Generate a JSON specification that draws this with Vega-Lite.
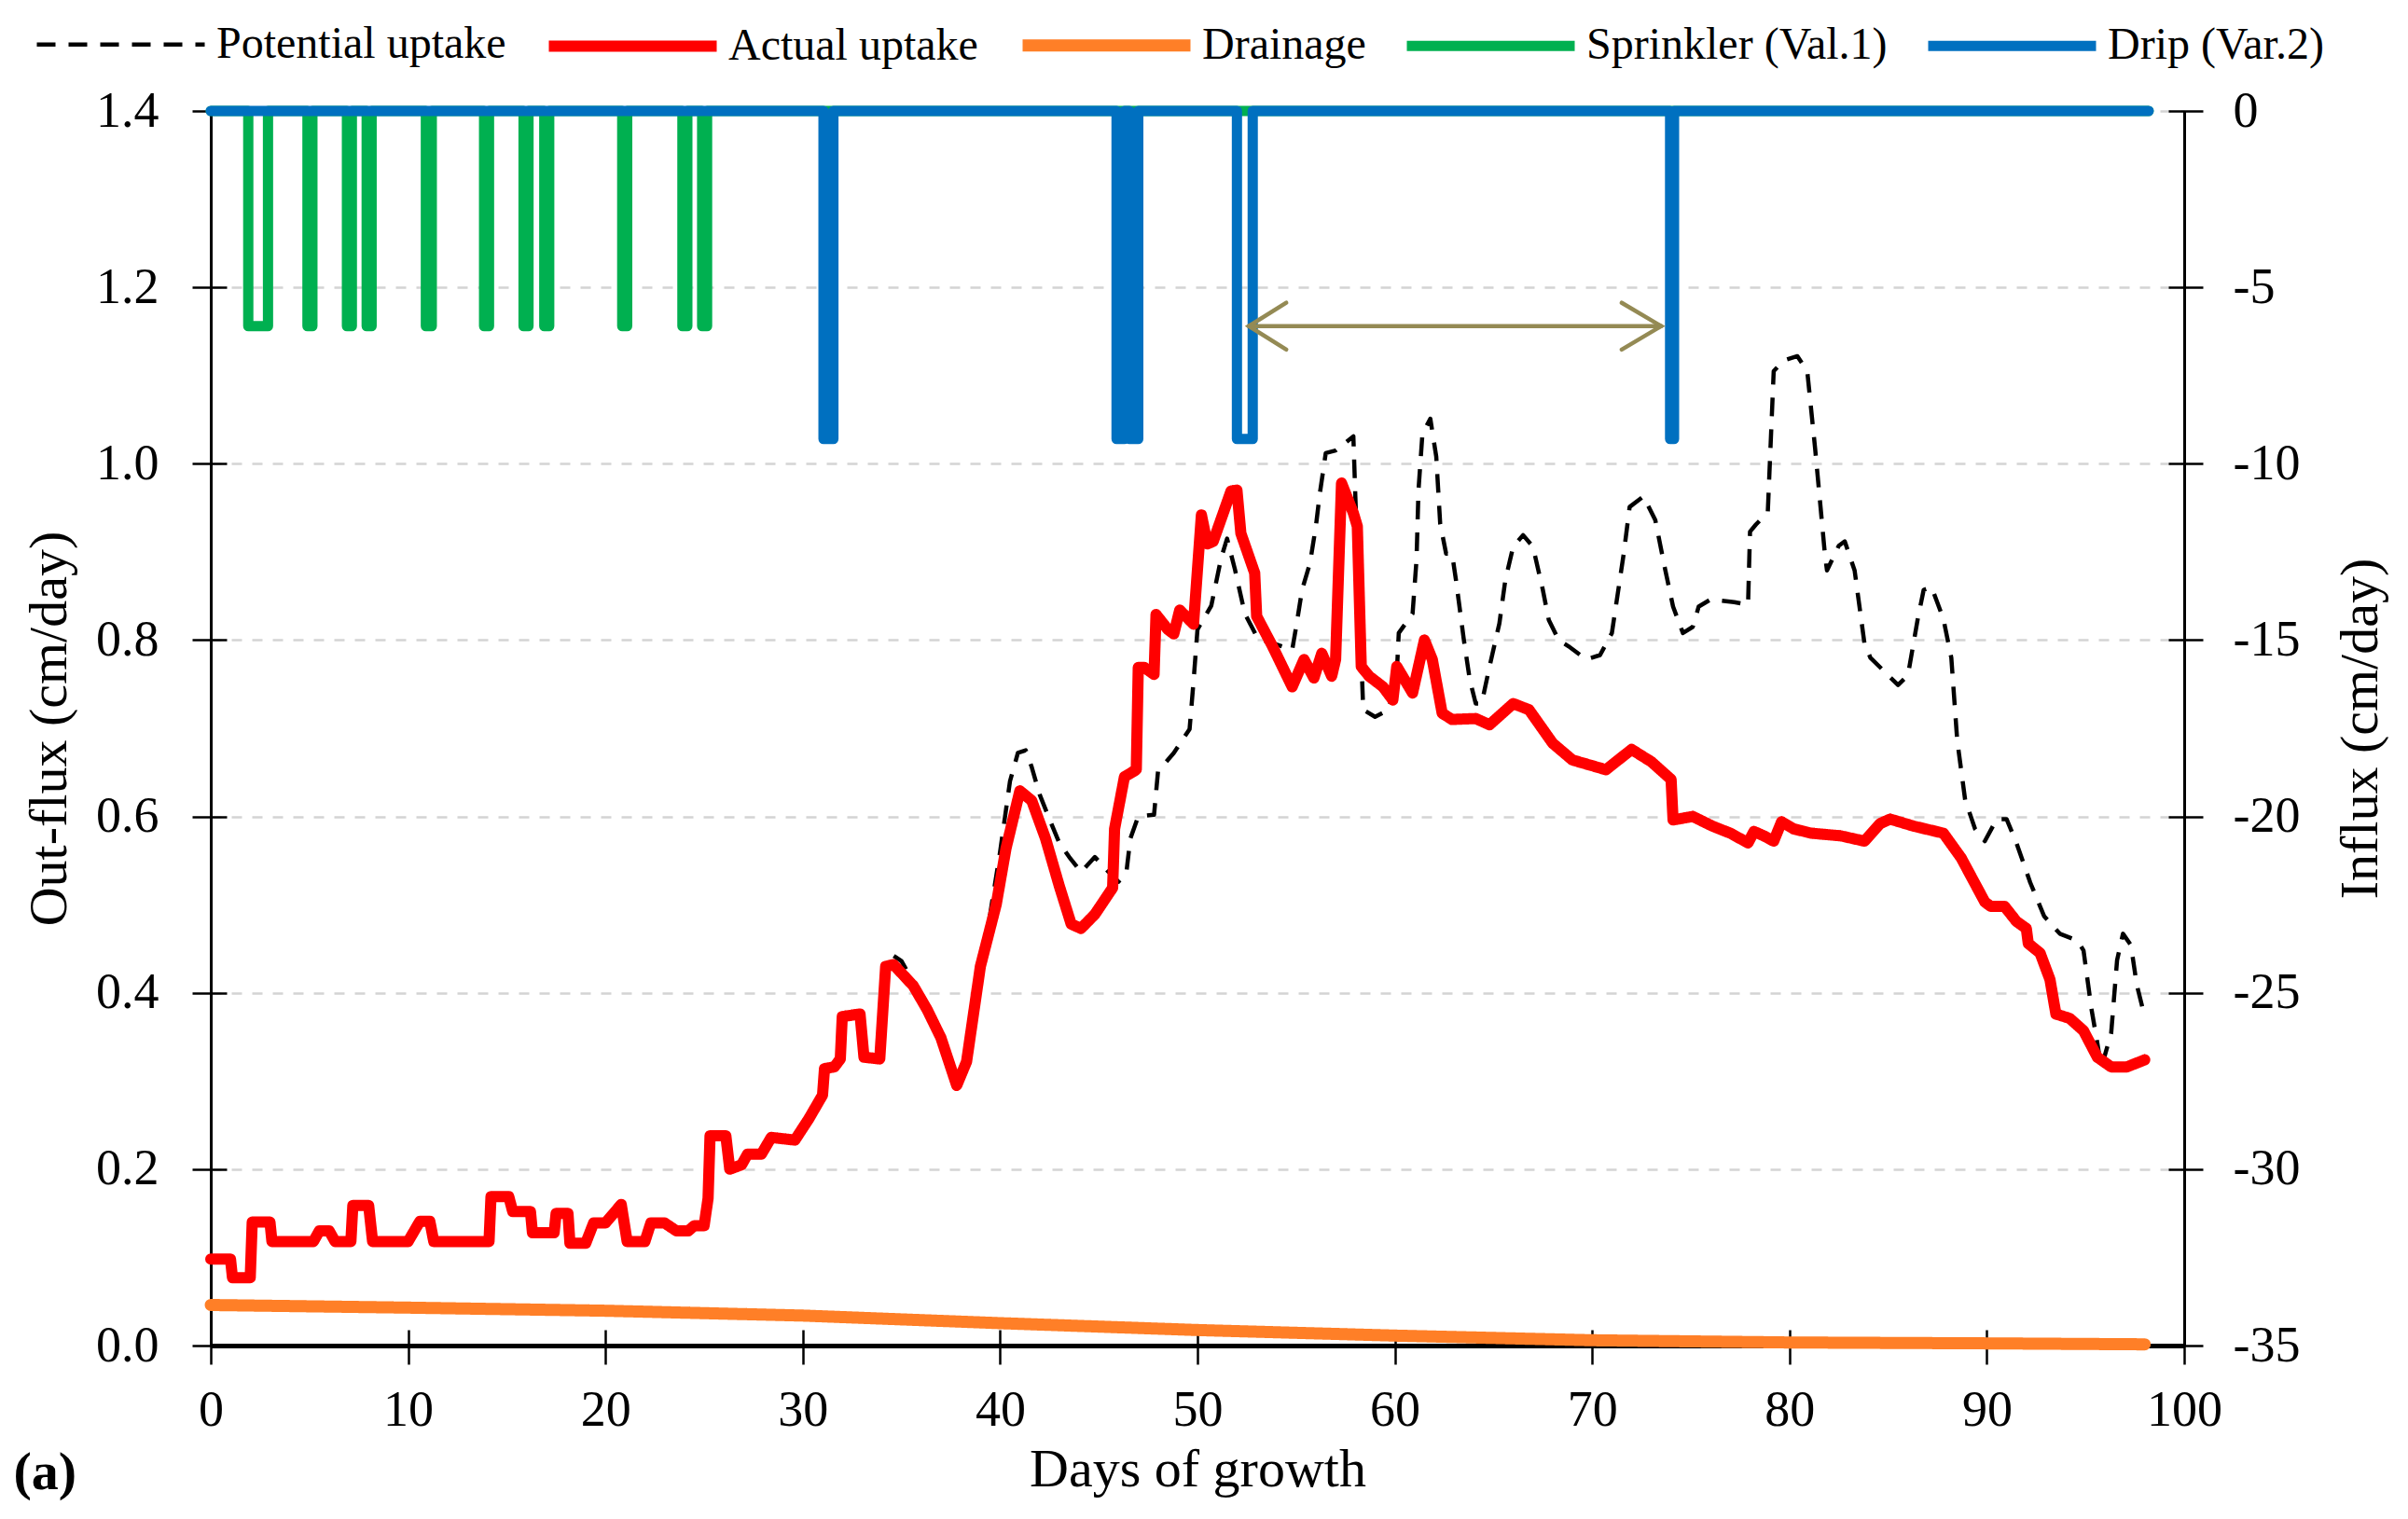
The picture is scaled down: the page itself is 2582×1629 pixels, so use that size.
{
  "$schema": "https://vega.github.io/schema/vega-lite/v6.json",
  "width": 2116,
  "height": 1324,
  "autosize": {"type": "none"},
  "padding": {"left": 226, "top": 119, "right": 240, "bottom": 186},
  "background": "white",
  "title": {"text": "(a)", "orient": "bottom", "anchor": "start", "frame": "bounds", "font": "Liberation Serif", "fontSize": 58, "fontWeight": "bold", "color": "#000", "offset": 0, "dy": -54, "dx": -10},
  "datasets": {
    "act": [
      {"d":0,"v":0.098,"s":"Actual uptake"},{"d":1.0,"v":0.098,"s":"Actual uptake"},{"d":1.1,"v":0.077,"s":"Actual uptake"},{"d":2.0,"v":0.077,"s":"Actual uptake"},
      {"d":2.1,"v":0.14,"s":"Actual uptake"},{"d":3.0,"v":0.14,"s":"Actual uptake"},{"d":3.1,"v":0.118,"s":"Actual uptake"},{"d":5.2,"v":0.118,"s":"Actual uptake"},
      {"d":5.5,"v":0.13,"s":"Actual uptake"},{"d":6.0,"v":0.13,"s":"Actual uptake"},{"d":6.3,"v":0.118,"s":"Actual uptake"},{"d":7.1,"v":0.118,"s":"Actual uptake"},
      {"d":7.2,"v":0.159,"s":"Actual uptake"},{"d":8.0,"v":0.159,"s":"Actual uptake"},{"d":8.2,"v":0.118,"s":"Actual uptake"},{"d":10.0,"v":0.118,"s":"Actual uptake"},
      {"d":10.6,"v":0.141,"s":"Actual uptake"},{"d":11.1,"v":0.141,"s":"Actual uptake"},{"d":11.3,"v":0.118,"s":"Actual uptake"},{"d":14.1,"v":0.118,"s":"Actual uptake"},
      {"d":14.2,"v":0.169,"s":"Actual uptake"},{"d":15.1,"v":0.169,"s":"Actual uptake"},{"d":15.3,"v":0.152,"s":"Actual uptake"},{"d":16.2,"v":0.152,"s":"Actual uptake"},
      {"d":16.3,"v":0.128,"s":"Actual uptake"},{"d":17.4,"v":0.128,"s":"Actual uptake"},{"d":17.5,"v":0.15,"s":"Actual uptake"},{"d":18.1,"v":0.15,"s":"Actual uptake"},
      {"d":18.2,"v":0.116,"s":"Actual uptake"},{"d":19.0,"v":0.116,"s":"Actual uptake"},{"d":19.4,"v":0.139,"s":"Actual uptake"},{"d":20.0,"v":0.139,"s":"Actual uptake"},
      {"d":20.8,"v":0.16,"s":"Actual uptake"},{"d":21.1,"v":0.118,"s":"Actual uptake"},{"d":22.0,"v":0.118,"s":"Actual uptake"},{"d":22.3,"v":0.139,"s":"Actual uptake"},
      {"d":23.0,"v":0.139,"s":"Actual uptake"},{"d":23.6,"v":0.13,"s":"Actual uptake"},{"d":24.2,"v":0.13,"s":"Actual uptake"},{"d":24.5,"v":0.136,"s":"Actual uptake"},
      {"d":25.0,"v":0.136,"s":"Actual uptake"},{"d":25.2,"v":0.167,"s":"Actual uptake"},{"d":25.3,"v":0.238,"s":"Actual uptake"},{"d":26.1,"v":0.238,"s":"Actual uptake"},
      {"d":26.3,"v":0.2,"s":"Actual uptake"},{"d":26.9,"v":0.205,"s":"Actual uptake"},{"d":27.2,"v":0.217,"s":"Actual uptake"},{"d":27.9,"v":0.217,"s":"Actual uptake"},
      {"d":28.4,"v":0.236,"s":"Actual uptake"},{"d":29.6,"v":0.233,"s":"Actual uptake"},{"d":30.3,"v":0.257,"s":"Actual uptake"},{"d":31.0,"v":0.284,"s":"Actual uptake"},
      {"d":31.1,"v":0.314,"s":"Actual uptake"},{"d":31.6,"v":0.316,"s":"Actual uptake"},{"d":31.9,"v":0.325,"s":"Actual uptake"},{"d":32.0,"v":0.373,"s":"Actual uptake"},
      {"d":32.9,"v":0.376,"s":"Actual uptake"},{"d":33.1,"v":0.327,"s":"Actual uptake"},{"d":33.9,"v":0.325,"s":"Actual uptake"},{"d":34.2,"v":0.43,"s":"Actual uptake"},
      {"d":34.6,"v":0.432,"s":"Actual uptake"},{"d":35.6,"v":0.408,"s":"Actual uptake"},{"d":36.3,"v":0.381,"s":"Actual uptake"},{"d":37.0,"v":0.349,"s":"Actual uptake"},
      {"d":37.8,"v":0.295,"s":"Actual uptake"},{"d":38.3,"v":0.322,"s":"Actual uptake"},{"d":39.0,"v":0.43,"s":"Actual uptake"},{"d":39.8,"v":0.5,"s":"Actual uptake"},
      {"d":40.3,"v":0.564,"s":"Actual uptake"},{"d":41.0,"v":0.629,"s":"Actual uptake"},{"d":41.6,"v":0.618,"s":"Actual uptake"},{"d":42.3,"v":0.575,"s":"Actual uptake"},
      {"d":43.0,"v":0.521,"s":"Actual uptake"},{"d":43.6,"v":0.478,"s":"Actual uptake"},{"d":44.1,"v":0.473,"s":"Actual uptake"},{"d":44.8,"v":0.489,"s":"Actual uptake"},
      {"d":45.7,"v":0.519,"s":"Actual uptake"},{"d":45.8,"v":0.586,"s":"Actual uptake"},{"d":46.3,"v":0.645,"s":"Actual uptake"},{"d":46.9,"v":0.653,"s":"Actual uptake"},
      {"d":47.0,"v":0.769,"s":"Actual uptake"},{"d":47.3,"v":0.769,"s":"Actual uptake"},{"d":47.8,"v":0.761,"s":"Actual uptake"},{"d":47.9,"v":0.829,"s":"Actual uptake"},
      {"d":48.5,"v":0.812,"s":"Actual uptake"},{"d":48.8,"v":0.807,"s":"Actual uptake"},{"d":49.1,"v":0.834,"s":"Actual uptake"},{"d":49.8,"v":0.818,"s":"Actual uptake"},
      {"d":50.2,"v":0.942,"s":"Actual uptake"},{"d":50.5,"v":0.909,"s":"Actual uptake"},{"d":50.8,"v":0.912,"s":"Actual uptake"},{"d":51.7,"v":0.969,"s":"Actual uptake"},
      {"d":52.0,"v":0.97,"s":"Actual uptake"},{"d":52.2,"v":0.921,"s":"Actual uptake"},{"d":52.9,"v":0.876,"s":"Actual uptake"},{"d":53.0,"v":0.827,"s":"Actual uptake"},
      {"d":53.8,"v":0.793,"s":"Actual uptake"},{"d":54.8,"v":0.747,"s":"Actual uptake"},{"d":55.4,"v":0.778,"s":"Actual uptake"},{"d":55.9,"v":0.757,"s":"Actual uptake"},
      {"d":56.3,"v":0.785,"s":"Actual uptake"},{"d":56.8,"v":0.759,"s":"Actual uptake"},{"d":57.0,"v":0.778,"s":"Actual uptake"},{"d":57.3,"v":0.978,"s":"Actual uptake"},
      {"d":57.9,"v":0.944,"s":"Actual uptake"},{"d":58.1,"v":0.929,"s":"Actual uptake"},{"d":58.3,"v":0.77,"s":"Actual uptake"},{"d":58.7,"v":0.759,"s":"Actual uptake"},
      {"d":59.4,"v":0.747,"s":"Actual uptake"},{"d":59.9,"v":0.732,"s":"Actual uptake"},{"d":60.1,"v":0.77,"s":"Actual uptake"},{"d":60.9,"v":0.74,"s":"Actual uptake"},
      {"d":61.5,"v":0.8,"s":"Actual uptake"},{"d":61.9,"v":0.778,"s":"Actual uptake"},{"d":62.4,"v":0.717,"s":"Actual uptake"},{"d":62.9,"v":0.71,"s":"Actual uptake"},
      {"d":64.1,"v":0.711,"s":"Actual uptake"},{"d":64.8,"v":0.704,"s":"Actual uptake"},{"d":66.0,"v":0.728,"s":"Actual uptake"},{"d":66.8,"v":0.721,"s":"Actual uptake"},
      {"d":68.0,"v":0.683,"s":"Actual uptake"},{"d":69.0,"v":0.664,"s":"Actual uptake"},{"d":70.7,"v":0.653,"s":"Actual uptake"},{"d":72.0,"v":0.676,"s":"Actual uptake"},
      {"d":73.0,"v":0.662,"s":"Actual uptake"},{"d":74.0,"v":0.642,"s":"Actual uptake"},{"d":74.1,"v":0.596,"s":"Actual uptake"},{"d":75.1,"v":0.6,"s":"Actual uptake"},
      {"d":76.1,"v":0.589,"s":"Actual uptake"},{"d":77.0,"v":0.581,"s":"Actual uptake"},{"d":77.9,"v":0.57,"s":"Actual uptake"},{"d":78.2,"v":0.583,"s":"Actual uptake"},
      {"d":78.7,"v":0.578,"s":"Actual uptake"},{"d":79.2,"v":0.572,"s":"Actual uptake"},{"d":79.6,"v":0.594,"s":"Actual uptake"},{"d":80.2,"v":0.586,"s":"Actual uptake"},
      {"d":81.1,"v":0.581,"s":"Actual uptake"},{"d":82.6,"v":0.578,"s":"Actual uptake"},{"d":83.8,"v":0.572,"s":"Actual uptake"},{"d":84.6,"v":0.592,"s":"Actual uptake"},
      {"d":85.1,"v":0.597,"s":"Actual uptake"},{"d":86.3,"v":0.589,"s":"Actual uptake"},{"d":87.8,"v":0.581,"s":"Actual uptake"},{"d":88.7,"v":0.553,"s":"Actual uptake"},
      {"d":89.9,"v":0.503,"s":"Actual uptake"},{"d":90.2,"v":0.498,"s":"Actual uptake"},{"d":90.9,"v":0.498,"s":"Actual uptake"},{"d":91.5,"v":0.481,"s":"Actual uptake"},
      {"d":92.0,"v":0.473,"s":"Actual uptake"},{"d":92.1,"v":0.456,"s":"Actual uptake"},{"d":92.7,"v":0.445,"s":"Actual uptake"},{"d":93.2,"v":0.415,"s":"Actual uptake"},
      {"d":93.5,"v":0.376,"s":"Actual uptake"},{"d":94.2,"v":0.371,"s":"Actual uptake"},{"d":94.9,"v":0.357,"s":"Actual uptake"},{"d":95.6,"v":0.327,"s":"Actual uptake"},
      {"d":96.3,"v":0.316,"s":"Actual uptake"},{"d":97.1,"v":0.316,"s":"Actual uptake"},{"d":98.0,"v":0.324,"s":"Actual uptake"}
    ],
    "pot": [
      {"d":0,"v":0.098,"s":"Potential uptake"},{"d":1.0,"v":0.098,"s":"Potential uptake"},{"d":1.1,"v":0.077,"s":"Potential uptake"},{"d":2.0,"v":0.077,"s":"Potential uptake"},
      {"d":2.1,"v":0.14,"s":"Potential uptake"},{"d":3.0,"v":0.14,"s":"Potential uptake"},{"d":3.1,"v":0.118,"s":"Potential uptake"},{"d":5.2,"v":0.118,"s":"Potential uptake"},
      {"d":5.5,"v":0.13,"s":"Potential uptake"},{"d":6.0,"v":0.13,"s":"Potential uptake"},{"d":6.3,"v":0.118,"s":"Potential uptake"},{"d":7.1,"v":0.118,"s":"Potential uptake"},
      {"d":7.2,"v":0.159,"s":"Potential uptake"},{"d":8.0,"v":0.159,"s":"Potential uptake"},{"d":8.2,"v":0.118,"s":"Potential uptake"},{"d":10.0,"v":0.118,"s":"Potential uptake"},
      {"d":10.6,"v":0.141,"s":"Potential uptake"},{"d":11.1,"v":0.141,"s":"Potential uptake"},{"d":11.3,"v":0.118,"s":"Potential uptake"},{"d":14.1,"v":0.118,"s":"Potential uptake"},
      {"d":14.2,"v":0.169,"s":"Potential uptake"},{"d":15.1,"v":0.169,"s":"Potential uptake"},{"d":15.3,"v":0.152,"s":"Potential uptake"},{"d":16.2,"v":0.152,"s":"Potential uptake"},
      {"d":16.3,"v":0.128,"s":"Potential uptake"},{"d":17.4,"v":0.128,"s":"Potential uptake"},{"d":17.5,"v":0.15,"s":"Potential uptake"},{"d":18.1,"v":0.15,"s":"Potential uptake"},
      {"d":18.2,"v":0.116,"s":"Potential uptake"},{"d":19.0,"v":0.116,"s":"Potential uptake"},{"d":19.4,"v":0.139,"s":"Potential uptake"},{"d":20.0,"v":0.139,"s":"Potential uptake"},
      {"d":20.8,"v":0.16,"s":"Potential uptake"},{"d":21.1,"v":0.118,"s":"Potential uptake"},{"d":22.0,"v":0.118,"s":"Potential uptake"},{"d":22.3,"v":0.139,"s":"Potential uptake"},
      {"d":23.0,"v":0.139,"s":"Potential uptake"},{"d":23.6,"v":0.13,"s":"Potential uptake"},{"d":24.2,"v":0.13,"s":"Potential uptake"},{"d":24.5,"v":0.136,"s":"Potential uptake"},
      {"d":25.0,"v":0.136,"s":"Potential uptake"},{"d":25.2,"v":0.167,"s":"Potential uptake"},{"d":25.3,"v":0.238,"s":"Potential uptake"},{"d":26.1,"v":0.238,"s":"Potential uptake"},
      {"d":26.3,"v":0.2,"s":"Potential uptake"},{"d":26.9,"v":0.205,"s":"Potential uptake"},{"d":27.2,"v":0.217,"s":"Potential uptake"},{"d":27.9,"v":0.217,"s":"Potential uptake"},
      {"d":28.4,"v":0.236,"s":"Potential uptake"},{"d":29.6,"v":0.233,"s":"Potential uptake"},{"d":30.3,"v":0.257,"s":"Potential uptake"},{"d":31.0,"v":0.284,"s":"Potential uptake"},
      {"d":31.1,"v":0.314,"s":"Potential uptake"},{"d":31.6,"v":0.316,"s":"Potential uptake"},{"d":31.9,"v":0.325,"s":"Potential uptake"},{"d":32.0,"v":0.373,"s":"Potential uptake"},
      {"d":32.9,"v":0.376,"s":"Potential uptake"},{"d":33.1,"v":0.327,"s":"Potential uptake"},{"d":33.9,"v":0.325,"s":"Potential uptake"},{"d":34.2,"v":0.43,"s":"Potential uptake"},
      {"d":34.6,"v":0.442,"s":"Potential uptake"},{"d":35.0,"v":0.436,"s":"Potential uptake"},{"d":35.5,"v":0.416,"s":"Potential uptake"},{"d":36.3,"v":0.381,"s":"Potential uptake"},
      {"d":37.0,"v":0.349,"s":"Potential uptake"},{"d":37.8,"v":0.295,"s":"Potential uptake"},{"d":38.3,"v":0.322,"s":"Potential uptake"},{"d":39.0,"v":0.43,"s":"Potential uptake"},
      {"d":39.5,"v":0.49,"s":"Potential uptake"},{"d":40.0,"v":0.56,"s":"Potential uptake"},{"d":40.5,"v":0.64,"s":"Potential uptake"},{"d":40.9,"v":0.672,"s":"Potential uptake"},
      {"d":41.3,"v":0.675,"s":"Potential uptake"},{"d":41.6,"v":0.656,"s":"Potential uptake"},{"d":42.0,"v":0.625,"s":"Potential uptake"},{"d":42.5,"v":0.597,"s":"Potential uptake"},
      {"d":43.0,"v":0.57,"s":"Potential uptake"},{"d":43.5,"v":0.554,"s":"Potential uptake"},{"d":44.1,"v":0.537,"s":"Potential uptake"},{"d":44.8,"v":0.554,"s":"Potential uptake"},
      {"d":45.5,"v":0.537,"s":"Potential uptake"},{"d":46.0,"v":0.526,"s":"Potential uptake"},{"d":46.4,"v":0.537,"s":"Potential uptake"},{"d":46.6,"v":0.575,"s":"Potential uptake"},
      {"d":47.0,"v":0.6,"s":"Potential uptake"},{"d":47.8,"v":0.602,"s":"Potential uptake"},{"d":48.0,"v":0.651,"s":"Potential uptake"},{"d":48.8,"v":0.672,"s":"Potential uptake"},
      {"d":49.6,"v":0.699,"s":"Potential uptake"},{"d":49.8,"v":0.753,"s":"Potential uptake"},{"d":50.0,"v":0.812,"s":"Potential uptake"},{"d":50.7,"v":0.839,"s":"Potential uptake"},
      {"d":51.2,"v":0.893,"s":"Potential uptake"},{"d":51.5,"v":0.915,"s":"Potential uptake"},{"d":51.9,"v":0.88,"s":"Potential uptake"},{"d":52.4,"v":0.83,"s":"Potential uptake"},
      {"d":53.1,"v":0.8,"s":"Potential uptake"},{"d":53.5,"v":0.799,"s":"Potential uptake"},{"d":54.8,"v":0.789,"s":"Potential uptake"},{"d":55.0,"v":0.815,"s":"Potential uptake"},
      {"d":55.3,"v":0.857,"s":"Potential uptake"},{"d":55.7,"v":0.887,"s":"Potential uptake"},{"d":56.0,"v":0.929,"s":"Potential uptake"},{"d":56.2,"v":0.966,"s":"Potential uptake"},
      {"d":56.5,"v":1.012,"s":"Potential uptake"},{"d":57.0,"v":1.015,"s":"Potential uptake"},{"d":57.9,"v":1.031,"s":"Potential uptake"},{"d":58.0,"v":0.963,"s":"Potential uptake"},
      {"d":58.4,"v":0.721,"s":"Potential uptake"},{"d":59.0,"v":0.713,"s":"Potential uptake"},{"d":59.7,"v":0.721,"s":"Potential uptake"},{"d":60.1,"v":0.762,"s":"Potential uptake"},
      {"d":60.2,"v":0.808,"s":"Potential uptake"},{"d":60.9,"v":0.83,"s":"Potential uptake"},{"d":61.1,"v":0.891,"s":"Potential uptake"},{"d":61.2,"v":0.97,"s":"Potential uptake"},
      {"d":61.4,"v":1.034,"s":"Potential uptake"},{"d":61.8,"v":1.051,"s":"Potential uptake"},{"d":62.1,"v":1.008,"s":"Potential uptake"},{"d":62.3,"v":0.932,"s":"Potential uptake"},
      {"d":62.6,"v":0.898,"s":"Potential uptake"},{"d":62.9,"v":0.898,"s":"Potential uptake"},{"d":63.1,"v":0.868,"s":"Potential uptake"},{"d":63.5,"v":0.8,"s":"Potential uptake"},
      {"d":63.8,"v":0.755,"s":"Potential uptake"},{"d":64.1,"v":0.728,"s":"Potential uptake"},{"d":64.4,"v":0.728,"s":"Potential uptake"},{"d":64.8,"v":0.77,"s":"Potential uptake"},
      {"d":65.3,"v":0.819,"s":"Potential uptake"},{"d":65.6,"v":0.868,"s":"Potential uptake"},{"d":66.0,"v":0.906,"s":"Potential uptake"},{"d":66.5,"v":0.919,"s":"Potential uptake"},
      {"d":67.0,"v":0.906,"s":"Potential uptake"},{"d":67.5,"v":0.857,"s":"Potential uptake"},{"d":67.8,"v":0.823,"s":"Potential uptake"},{"d":68.3,"v":0.8,"s":"Potential uptake"},
      {"d":68.8,"v":0.793,"s":"Potential uptake"},{"d":69.7,"v":0.778,"s":"Potential uptake"},{"d":70.4,"v":0.783,"s":"Potential uptake"},{"d":71.0,"v":0.808,"s":"Potential uptake"},
      {"d":71.2,"v":0.838,"s":"Potential uptake"},{"d":71.6,"v":0.898,"s":"Potential uptake"},{"d":71.9,"v":0.951,"s":"Potential uptake"},{"d":72.6,"v":0.963,"s":"Potential uptake"},
      {"d":73.2,"v":0.936,"s":"Potential uptake"},{"d":73.7,"v":0.88,"s":"Potential uptake"},{"d":74.1,"v":0.838,"s":"Potential uptake"},{"d":74.6,"v":0.808,"s":"Potential uptake"},
      {"d":75.1,"v":0.815,"s":"Potential uptake"},{"d":75.4,"v":0.838,"s":"Potential uptake"},{"d":76.0,"v":0.846,"s":"Potential uptake"},{"d":77.2,"v":0.843,"s":"Potential uptake"},
      {"d":77.9,"v":0.84,"s":"Potential uptake"},{"d":78.0,"v":0.923,"s":"Potential uptake"},{"d":78.3,"v":0.931,"s":"Potential uptake"},{"d":78.9,"v":0.945,"s":"Potential uptake"},
      {"d":79.2,"v":1.105,"s":"Potential uptake"},{"d":79.7,"v":1.117,"s":"Potential uptake"},{"d":80.4,"v":1.122,"s":"Potential uptake"},{"d":80.9,"v":1.105,"s":"Potential uptake"},
      {"d":81.3,"v":1.017,"s":"Potential uptake"},{"d":81.8,"v":0.896,"s":"Potential uptake"},{"d":81.9,"v":0.879,"s":"Potential uptake"},{"d":82.5,"v":0.907,"s":"Potential uptake"},
      {"d":82.8,"v":0.912,"s":"Potential uptake"},{"d":83.3,"v":0.879,"s":"Potential uptake"},{"d":83.8,"v":0.796,"s":"Potential uptake"},{"d":84.1,"v":0.78,"s":"Potential uptake"},
      {"d":85.5,"v":0.749,"s":"Potential uptake"},{"d":86.0,"v":0.76,"s":"Potential uptake"},{"d":86.5,"v":0.824,"s":"Potential uptake"},{"d":86.8,"v":0.857,"s":"Potential uptake"},
      {"d":87.2,"v":0.86,"s":"Potential uptake"},{"d":87.8,"v":0.824,"s":"Potential uptake"},{"d":88.2,"v":0.78,"s":"Potential uptake"},{"d":88.5,"v":0.686,"s":"Potential uptake"},
      {"d":88.9,"v":0.619,"s":"Potential uptake"},{"d":89.4,"v":0.586,"s":"Potential uptake"},{"d":89.9,"v":0.572,"s":"Potential uptake"},{"d":90.5,"v":0.597,"s":"Potential uptake"},
      {"d":91.0,"v":0.597,"s":"Potential uptake"},{"d":91.5,"v":0.57,"s":"Potential uptake"},{"d":92.2,"v":0.525,"s":"Potential uptake"},{"d":92.9,"v":0.487,"s":"Potential uptake"},
      {"d":93.7,"v":0.467,"s":"Potential uptake"},{"d":94.6,"v":0.459,"s":"Potential uptake"},{"d":94.9,"v":0.448,"s":"Potential uptake"},{"d":95.3,"v":0.382,"s":"Potential uptake"},
      {"d":95.6,"v":0.343,"s":"Potential uptake"},{"d":95.8,"v":0.315,"s":"Potential uptake"},{"d":96.3,"v":0.354,"s":"Potential uptake"},{"d":96.6,"v":0.437,"s":"Potential uptake"},
      {"d":96.9,"v":0.467,"s":"Potential uptake"},{"d":97.3,"v":0.454,"s":"Potential uptake"},{"d":97.6,"v":0.409,"s":"Potential uptake"},{"d":97.9,"v":0.382,"s":"Potential uptake"}
    ],
    "drn": [
      {"d":0,"v":0.046,"s":"Drainage"},{"d":10,"v":0.043,"s":"Drainage"},{"d":20,"v":0.0395,"s":"Drainage"},{"d":30,"v":0.034,"s":"Drainage"},
      {"d":40,"v":0.0254,"s":"Drainage"},{"d":50,"v":0.0176,"s":"Drainage"},{"d":60,"v":0.0113,"s":"Drainage"},{"d":70,"v":0.006,"s":"Drainage"},
      {"d":80,"v":0.0035,"s":"Drainage"},{"d":90,"v":0.0025,"s":"Drainage"},{"d":98,"v":0.0014,"s":"Drainage"}
    ],
    "spr": [
      {"d":0,"v":0,"s":"Sprinkler (Val.1)"},{"d":1.9,"v":0,"s":"Sprinkler (Val.1)"},{"d":1.9,"v":-6.1,"s":"Sprinkler (Val.1)"},{"d":2.9,"v":-6.1,"s":"Sprinkler (Val.1)"},{"d":2.9,"v":0,"s":"Sprinkler (Val.1)"},
      {"d":4.9,"v":0,"s":"Sprinkler (Val.1)"},{"d":4.9,"v":-6.1,"s":"Sprinkler (Val.1)"},{"d":5.15,"v":-6.1,"s":"Sprinkler (Val.1)"},{"d":5.15,"v":0,"s":"Sprinkler (Val.1)"},
      {"d":6.9,"v":0,"s":"Sprinkler (Val.1)"},{"d":6.9,"v":-6.1,"s":"Sprinkler (Val.1)"},{"d":7.15,"v":-6.1,"s":"Sprinkler (Val.1)"},{"d":7.15,"v":0,"s":"Sprinkler (Val.1)"},
      {"d":7.9,"v":0,"s":"Sprinkler (Val.1)"},{"d":7.9,"v":-6.1,"s":"Sprinkler (Val.1)"},{"d":8.15,"v":-6.1,"s":"Sprinkler (Val.1)"},{"d":8.15,"v":0,"s":"Sprinkler (Val.1)"},
      {"d":10.9,"v":0,"s":"Sprinkler (Val.1)"},{"d":10.9,"v":-6.1,"s":"Sprinkler (Val.1)"},{"d":11.2,"v":-6.1,"s":"Sprinkler (Val.1)"},{"d":11.2,"v":0,"s":"Sprinkler (Val.1)"},
      {"d":13.85,"v":0,"s":"Sprinkler (Val.1)"},{"d":13.85,"v":-6.1,"s":"Sprinkler (Val.1)"},{"d":14.1,"v":-6.1,"s":"Sprinkler (Val.1)"},{"d":14.1,"v":0,"s":"Sprinkler (Val.1)"},
      {"d":15.85,"v":0,"s":"Sprinkler (Val.1)"},{"d":15.85,"v":-6.1,"s":"Sprinkler (Val.1)"},{"d":16.1,"v":-6.1,"s":"Sprinkler (Val.1)"},{"d":16.1,"v":0,"s":"Sprinkler (Val.1)"},
      {"d":16.9,"v":0,"s":"Sprinkler (Val.1)"},{"d":16.9,"v":-6.1,"s":"Sprinkler (Val.1)"},{"d":17.15,"v":-6.1,"s":"Sprinkler (Val.1)"},{"d":17.15,"v":0,"s":"Sprinkler (Val.1)"},
      {"d":20.85,"v":0,"s":"Sprinkler (Val.1)"},{"d":20.85,"v":-6.1,"s":"Sprinkler (Val.1)"},{"d":21.1,"v":-6.1,"s":"Sprinkler (Val.1)"},{"d":21.1,"v":0,"s":"Sprinkler (Val.1)"},
      {"d":23.9,"v":0,"s":"Sprinkler (Val.1)"},{"d":23.9,"v":-6.1,"s":"Sprinkler (Val.1)"},{"d":24.15,"v":-6.1,"s":"Sprinkler (Val.1)"},{"d":24.15,"v":0,"s":"Sprinkler (Val.1)"},
      {"d":24.9,"v":0,"s":"Sprinkler (Val.1)"},{"d":24.9,"v":-6.1,"s":"Sprinkler (Val.1)"},{"d":25.15,"v":-6.1,"s":"Sprinkler (Val.1)"},{"d":25.15,"v":0,"s":"Sprinkler (Val.1)"},
      {"d":98.2,"v":0,"s":"Sprinkler (Val.1)"}
    ],
    "drp": [
      {"d":0,"v":0,"s":"Drip (Var.2)"},{"d":31.05,"v":0,"s":"Drip (Var.2)"},{"d":31.05,"v":-9.3,"s":"Drip (Var.2)"},{"d":31.55,"v":-9.3,"s":"Drip (Var.2)"},{"d":31.55,"v":0,"s":"Drip (Var.2)"},
      {"d":45.9,"v":0,"s":"Drip (Var.2)"},{"d":45.9,"v":-9.3,"s":"Drip (Var.2)"},{"d":46.3,"v":-9.3,"s":"Drip (Var.2)"},{"d":46.3,"v":0,"s":"Drip (Var.2)"},
      {"d":46.55,"v":0,"s":"Drip (Var.2)"},{"d":46.55,"v":-9.3,"s":"Drip (Var.2)"},{"d":47.0,"v":-9.3,"s":"Drip (Var.2)"},{"d":47.0,"v":0,"s":"Drip (Var.2)"},
      {"d":52.0,"v":0,"s":"Drip (Var.2)"},{"d":52.0,"v":-9.3,"s":"Drip (Var.2)"},{"d":52.8,"v":-9.3,"s":"Drip (Var.2)"},{"d":52.8,"v":0,"s":"Drip (Var.2)"},
      {"d":73.95,"v":0,"s":"Drip (Var.2)"},{"d":73.95,"v":-9.3,"s":"Drip (Var.2)"},{"d":74.15,"v":-9.3,"s":"Drip (Var.2)"},{"d":74.15,"v":0,"s":"Drip (Var.2)"},
      {"d":98.2,"v":0,"s":"Drip (Var.2)"}
    ],
    "arrow": [
      {"g":"shaft","d":52.6,"v":1.156},{"g":"shaft","d":73.5,"v":1.156},
      {"g":"left","d":54.5,"v":1.1825},{"g":"left","d":52.6,"v":1.156},{"g":"left","d":54.5,"v":1.1295},
      {"g":"right","d":71.5,"v":1.1825},{"g":"right","d":73.5,"v":1.156},{"g":"right","d":71.5,"v":1.1295}
    ]
  },
  "layer": [
    {
      "data": {"name": "drn"},
      "mark": {"type": "line", "strokeCap": "round", "strokeJoin": "round"},
      "encoding": {
        "x": {"field": "d", "type": "quantitative", "scale": {"domain": [0, 100], "nice": false, "zero": false},
              "axis": {"orient": "bottom", "values": [0,10,20,30,40,50,60,70,80,90,100], "domain": false, "offset": -17, "tickSize": 37, "labelPadding": 22, "labelFlush": false, "labelOverlap": false, "title": "Days of growth", "titlePadding": 8, "grid": false}},
        "y": {"field": "v", "type": "quantitative", "scale": {"domain": [0, 1.4], "nice": false, "zero": false},
              "axis": {"orient": "left", "values": [0,0.2,0.4,0.6,0.8,1.0,1.2,1.4], "format": ".1f", "domain": false, "offset": -17, "tickSize": 37, "labelPadding": 36, "labelFlush": false, "labelOverlap": false, "title": "Out-flux (cm/day)", "titlePadding": 20, "grid": false}},
        "order": {"value": null},
        "color": {"field": "s", "type": "nominal", "scale": {"domain": ["Potential uptake","Actual uptake","Drainage","Sprinkler (Val.1)","Drip (Var.2)"], "range": ["#000000","#FF0000","#FF7F27","#00B050","#0070C0"]},
                  "legend": {"title": null, "orient": "none", "legendX": -193, "legendY": -167, "direction": "horizontal", "columns": 5, "symbolType": "stroke", "symbolSize": 32400, "labelFontSize": 48, "labelOffset": 6, "columnPadding": 21, "labelLimit": 0}},
        "strokeDash": {"field": "s", "type": "nominal", "scale": {"domain": ["Potential uptake","Actual uptake","Drainage","Sprinkler (Val.1)","Drip (Var.2)"], "range": [[20,14],[1,0],[1,0],[1,0],[1,0]]},
                  "legend": {"title": null, "orient": "none", "legendX": -193, "legendY": -167, "direction": "horizontal", "columns": 5, "symbolType": "stroke", "symbolSize": 32400, "labelFontSize": 48, "labelOffset": 6, "columnPadding": 21, "labelLimit": 0}},
        "strokeWidth": {"field": "s", "type": "nominal", "scale": {"type": "ordinal", "domain": ["Potential uptake","Actual uptake","Drainage","Sprinkler (Val.1)","Drip (Var.2)"], "range": [4.5,12,13,11,11]},
                  "legend": {"title": null, "orient": "none", "legendX": -193, "legendY": -167, "direction": "horizontal", "columns": 5, "symbolType": "stroke", "symbolSize": 32400, "labelFontSize": 48, "labelOffset": 6, "columnPadding": 21, "labelLimit": 0}}
      }
    },
    {
      "data": {"name": "pot"},
      "mark": {"type": "line", "strokeCap": "butt", "strokeJoin": "round"},
      "encoding": {
        "x": {"field": "d", "type": "quantitative", "scale": {"domain": [0, 100], "nice": false, "zero": false},
              "axis": {"orient": "bottom", "domain": true, "domainWidth": 5, "ticks": false, "labels": false, "title": null, "grid": false}},
        "y": {"field": "v", "type": "quantitative", "scale": {"domain": [0, 1.4], "nice": false, "zero": false},
              "axis": {"orient": "left", "values": [0,0.2,0.4,0.6,0.8,1.0,1.2,1.4], "domain": true, "ticks": false, "labels": false, "title": null, "grid": true, "gridColor": "#d4d4d4", "gridDash": [11, 11], "gridWidth": 2.5}},
        "order": {"value": null},
        "color": {"field": "s", "type": "nominal", "scale": {"domain": ["Potential uptake","Actual uptake","Drainage","Sprinkler (Val.1)","Drip (Var.2)"], "range": ["#000000","#FF0000","#FF7F27","#00B050","#0070C0"]},
                  "legend": {"title": null, "orient": "none", "legendX": -193, "legendY": -167, "direction": "horizontal", "columns": 5, "symbolType": "stroke", "symbolSize": 32400, "labelFontSize": 48, "labelOffset": 6, "columnPadding": 21, "labelLimit": 0}},
        "strokeDash": {"field": "s", "type": "nominal", "scale": {"domain": ["Potential uptake","Actual uptake","Drainage","Sprinkler (Val.1)","Drip (Var.2)"], "range": [[20,14],[1,0],[1,0],[1,0],[1,0]]},
                  "legend": {"title": null, "orient": "none", "legendX": -193, "legendY": -167, "direction": "horizontal", "columns": 5, "symbolType": "stroke", "symbolSize": 32400, "labelFontSize": 48, "labelOffset": 6, "columnPadding": 21, "labelLimit": 0}},
        "strokeWidth": {"field": "s", "type": "nominal", "scale": {"type": "ordinal", "domain": ["Potential uptake","Actual uptake","Drainage","Sprinkler (Val.1)","Drip (Var.2)"], "range": [4.5,12,13,11,11]},
                  "legend": {"title": null, "orient": "none", "legendX": -193, "legendY": -167, "direction": "horizontal", "columns": 5, "symbolType": "stroke", "symbolSize": 32400, "labelFontSize": 48, "labelOffset": 6, "columnPadding": 21, "labelLimit": 0}}
      }
    },
    {
      "data": {"name": "act"},
      "mark": {"type": "line", "strokeCap": "round", "strokeJoin": "round"},
      "encoding": {
        "x": {"field": "d", "type": "quantitative", "scale": {"domain": [0, 100], "nice": false, "zero": false}, "axis": null},
        "y": {"field": "v", "type": "quantitative", "scale": {"domain": [0, 1.4], "nice": false, "zero": false}, "axis": null},
        "order": {"value": null},
        "color": {"field": "s", "type": "nominal", "scale": {"domain": ["Potential uptake","Actual uptake","Drainage","Sprinkler (Val.1)","Drip (Var.2)"], "range": ["#000000","#FF0000","#FF7F27","#00B050","#0070C0"]},
                  "legend": {"title": null, "orient": "none", "legendX": -193, "legendY": -167, "direction": "horizontal", "columns": 5, "symbolType": "stroke", "symbolSize": 32400, "labelFontSize": 48, "labelOffset": 6, "columnPadding": 21, "labelLimit": 0}},
        "strokeDash": {"field": "s", "type": "nominal", "scale": {"domain": ["Potential uptake","Actual uptake","Drainage","Sprinkler (Val.1)","Drip (Var.2)"], "range": [[20,14],[1,0],[1,0],[1,0],[1,0]]},
                  "legend": {"title": null, "orient": "none", "legendX": -193, "legendY": -167, "direction": "horizontal", "columns": 5, "symbolType": "stroke", "symbolSize": 32400, "labelFontSize": 48, "labelOffset": 6, "columnPadding": 21, "labelLimit": 0}},
        "strokeWidth": {"field": "s", "type": "nominal", "scale": {"type": "ordinal", "domain": ["Potential uptake","Actual uptake","Drainage","Sprinkler (Val.1)","Drip (Var.2)"], "range": [4.5,12,13,11,11]},
                  "legend": {"title": null, "orient": "none", "legendX": -193, "legendY": -167, "direction": "horizontal", "columns": 5, "symbolType": "stroke", "symbolSize": 32400, "labelFontSize": 48, "labelOffset": 6, "columnPadding": 21, "labelLimit": 0}}
      }
    },
    {
      "data": {"name": "spr"},
      "mark": {"type": "line", "strokeCap": "round", "strokeJoin": "round"},
      "encoding": {
        "x": {"field": "d", "type": "quantitative", "scale": {"domain": [0, 100], "nice": false, "zero": false}, "axis": null},
        "y": {"field": "v", "type": "quantitative", "scale": {"domain": [-35, 0], "nice": false, "zero": false},
              "axis": {"orient": "right", "values": [-35,-30,-25,-20,-15,-10,-5,0], "labelExpr": "'' + datum.value", "domain": false, "offset": -17, "tickSize": 37, "labelPadding": 32, "labelFlush": false, "labelOverlap": false, "title": "Influx (cm/day)", "titleAngle": 270, "titlePadding": 95, "grid": false}},
        "order": {"value": null},
        "color": {"field": "s", "type": "nominal", "scale": {"domain": ["Potential uptake","Actual uptake","Drainage","Sprinkler (Val.1)","Drip (Var.2)"], "range": ["#000000","#FF0000","#FF7F27","#00B050","#0070C0"]},
                  "legend": {"title": null, "orient": "none", "legendX": -193, "legendY": -167, "direction": "horizontal", "columns": 5, "symbolType": "stroke", "symbolSize": 32400, "labelFontSize": 48, "labelOffset": 6, "columnPadding": 21, "labelLimit": 0}},
        "strokeDash": {"field": "s", "type": "nominal", "scale": {"domain": ["Potential uptake","Actual uptake","Drainage","Sprinkler (Val.1)","Drip (Var.2)"], "range": [[20,14],[1,0],[1,0],[1,0],[1,0]]},
                  "legend": {"title": null, "orient": "none", "legendX": -193, "legendY": -167, "direction": "horizontal", "columns": 5, "symbolType": "stroke", "symbolSize": 32400, "labelFontSize": 48, "labelOffset": 6, "columnPadding": 21, "labelLimit": 0}},
        "strokeWidth": {"field": "s", "type": "nominal", "scale": {"type": "ordinal", "domain": ["Potential uptake","Actual uptake","Drainage","Sprinkler (Val.1)","Drip (Var.2)"], "range": [4.5,12,13,11,11]},
                  "legend": {"title": null, "orient": "none", "legendX": -193, "legendY": -167, "direction": "horizontal", "columns": 5, "symbolType": "stroke", "symbolSize": 32400, "labelFontSize": 48, "labelOffset": 6, "columnPadding": 21, "labelLimit": 0}}
      }
    },
    {
      "data": {"name": "drp"},
      "mark": {"type": "line", "strokeCap": "round", "strokeJoin": "round"},
      "encoding": {
        "x": {"field": "d", "type": "quantitative", "scale": {"domain": [0, 100], "nice": false, "zero": false}, "axis": null},
        "y": {"field": "v", "type": "quantitative", "scale": {"domain": [-35, 0], "nice": false, "zero": false},
              "axis": {"orient": "right", "domain": true, "ticks": false, "labels": false, "title": null, "grid": false}},
        "order": {"value": null},
        "color": {"field": "s", "type": "nominal", "scale": {"domain": ["Potential uptake","Actual uptake","Drainage","Sprinkler (Val.1)","Drip (Var.2)"], "range": ["#000000","#FF0000","#FF7F27","#00B050","#0070C0"]},
                  "legend": {"title": null, "orient": "none", "legendX": -193, "legendY": -167, "direction": "horizontal", "columns": 5, "symbolType": "stroke", "symbolSize": 32400, "labelFontSize": 48, "labelOffset": 6, "columnPadding": 21, "labelLimit": 0}},
        "strokeDash": {"field": "s", "type": "nominal", "scale": {"domain": ["Potential uptake","Actual uptake","Drainage","Sprinkler (Val.1)","Drip (Var.2)"], "range": [[20,14],[1,0],[1,0],[1,0],[1,0]]},
                  "legend": {"title": null, "orient": "none", "legendX": -193, "legendY": -167, "direction": "horizontal", "columns": 5, "symbolType": "stroke", "symbolSize": 32400, "labelFontSize": 48, "labelOffset": 6, "columnPadding": 21, "labelLimit": 0}},
        "strokeWidth": {"field": "s", "type": "nominal", "scale": {"type": "ordinal", "domain": ["Potential uptake","Actual uptake","Drainage","Sprinkler (Val.1)","Drip (Var.2)"], "range": [4.5,12,13,11,11]},
                  "legend": {"title": null, "orient": "none", "legendX": -193, "legendY": -167, "direction": "horizontal", "columns": 5, "symbolType": "stroke", "symbolSize": 32400, "labelFontSize": 48, "labelOffset": 6, "columnPadding": 21, "labelLimit": 0}}
      }
    },
    {
      "data": {"name": "arrow"},
      "mark": {"type": "line", "color": "#948A54", "strokeWidth": 4.5, "strokeCap": "round", "strokeJoin": "miter"},
      "encoding": {
        "x": {"field": "d", "type": "quantitative", "scale": {"domain": [0, 100], "nice": false, "zero": false}, "axis": null},
        "y": {"field": "v", "type": "quantitative", "scale": {"domain": [0, 1.4], "nice": false, "zero": false}, "axis": null},
        "detail": {"field": "g", "type": "nominal"},
        "order": {"value": null}
      }
    }
  ],
  "resolve": {"scale": {"y": "independent"}, "axis": {"x": "independent", "y": "independent"}},
  "config": {
    "view": {"stroke": null},
    "font": "Liberation Serif",
    "axis": {"labelFont": "Liberation Serif", "titleFont": "Liberation Serif", "labelFontSize": 54, "titleFontSize": 58, "titleFontWeight": "normal", "labelColor": "#000000", "titleColor": "#000000", "domainColor": "#000000", "tickColor": "#000000", "domainWidth": 3, "tickWidth": 2.5},
    "legend": {"labelFont": "Liberation Serif", "labelColor": "#000000", "padding": 0}
  }
}
